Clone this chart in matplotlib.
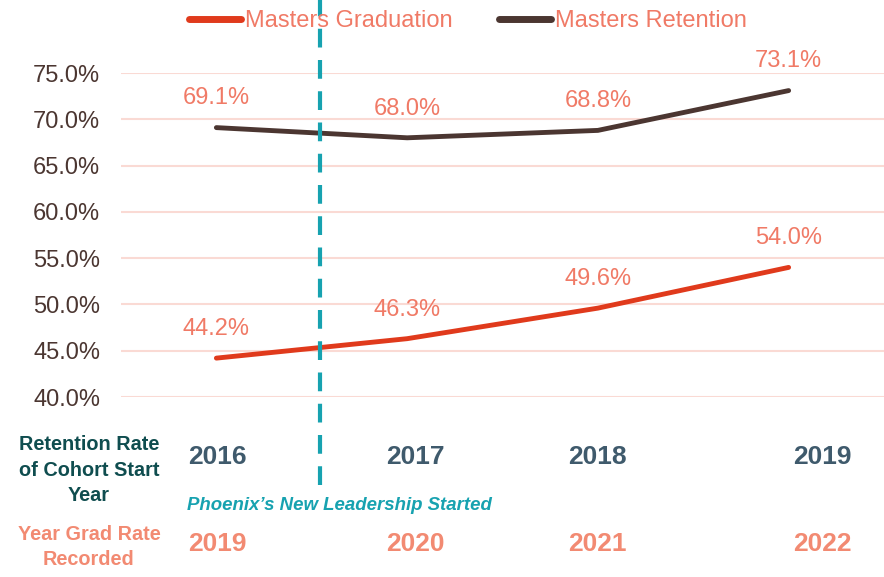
import matplotlib
matplotlib.use("Agg")
import matplotlib.pyplot as plt
from matplotlib.ticker import FuncFormatter

plt.rcParams["font.family"] = ["Liberation Sans", "DejaVu Sans"]

cohort_years = ["2016", "2017", "2018", "2019"]
grad_years = ["2019", "2020", "2021", "2022"]
graduation = [44.2, 46.3, 49.6, 54.0]
retention = [69.1, 68.0, 68.8, 73.1]
y_ticks = [40, 45, 50, 55, 60, 65, 70, 75]

RED = "#E03A1C"
BROWN = "#4B3631"
SALMON = "#F07A66"
GRID = "#FADAD4"
TEAL = "#17A2B0"
DARK_TEAL = "#0F4D4F"
SLATE = "#3F5A6C"
GRAD_TXT = "#F28A72"

fig = plt.figure(figsize=(8.84, 5.77), dpi=100)
ax = fig.add_axes([121 / 884, 1 - 397 / 577, 1 - 121 / 884, (397 - 73) / 577])

x = range(len(cohort_years))
ax.plot(x, graduation, color=RED, lw=3.5, solid_capstyle="round", label="Masters Graduation")
ax.plot(x, retention, color=BROWN, lw=3.5, solid_capstyle="round", label="Masters Retention")

for i, (g, r) in enumerate(zip(graduation, retention)):
    for v in (g, r):
        ax.annotate(f"{v:.1f}%", (i, v), xytext=(0, 21), textcoords="offset points",
                    ha="center", va="center", color=SALMON, fontsize=17, clip_on=False)

ax.set_xlim(-0.5, 3.5)
ax.set_ylim(40, 75)
ax.set_yticks(y_ticks)
ax.yaxis.set_major_formatter(FuncFormatter(lambda v, _: f"{v:.1f}%"))
ax.tick_params(axis="y", length=0, pad=15, labelsize=17, labelcolor=BROWN)
ax.set_xticks([])
ax.grid(axis="y", color=GRID, lw=1.5)
ax.set_axisbelow(True)
for s in ax.spines.values():
    s.set_visible(False)

# leadership marker
line_x = 0.545
ax.plot([line_x, line_x], [40 - 88 / 9.26, 75 + 75 / 9.26], color=TEAL, lw=3,
        linestyle=(0, (4.5, 3)), clip_on=False)

ax.legend(loc="center", bbox_to_anchor=((468 - 121) / 763, 1 + 52 / 324), ncol=2,
          frameon=False, fontsize=17, handlelength=2.2, handletextpad=0.15,
          columnspacing=2.0, labelcolor=SALMON, borderaxespad=0)
for ln in ax.get_legend().get_lines():
    ln.set_linewidth(5)

# row labels below the axis
fig.text(89 / 884, 1 - 470 / 577, "Retention Rate\nof Cohort Start\nYear", ha="center",
         va="center", fontsize=14.3, fontweight="bold", color=DARK_TEAL, linespacing=1.42)
fig.text(89 / 884, 1 - 547 / 577, "Year Grad Rate\nRecorded", ha="center",
         va="center", fontsize=14.3, fontweight="bold", color=GRAD_TXT, linespacing=1.42)
top_x = [217, 415, 597, 822]
for px, cy, gy in zip(top_x, cohort_years, grad_years):
    fig.text(px / 884, 1 - 457 / 577, cy, ha="center", va="center",
             fontsize=19, fontweight="bold", color=SLATE)
    fig.text(px / 884, 1 - 544 / 577, gy, ha="center", va="center",
             fontsize=19, fontweight="bold", color=GRAD_TXT)
fig.text(187 / 884, 1 - 506 / 577, "Phoenix\u2019s New Leadership Started", ha="left",
         va="center", fontsize=13.4, fontweight="bold", style="italic", color=TEAL)

fig.savefig("out.png", dpi=100)
